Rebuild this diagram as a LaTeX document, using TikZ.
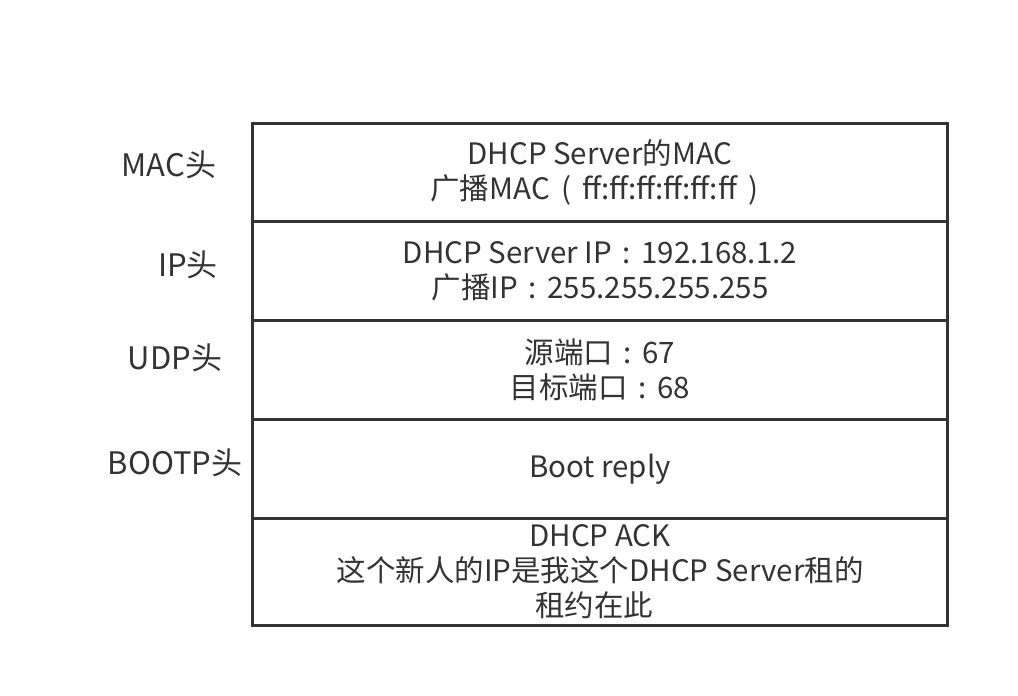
\documentclass[tikz,border=0pt]{standalone}
\usepackage{fontspec}
\setmainfont{Noto Sans CJK SC}
\newcommand{\wcolon}{\makebox[1em]{:}}
\newcommand{\wlp}{\makebox[1.1em]{(}}
\newcommand{\wrp}{\makebox[1.1em]{)}}
\begin{document}
\begin{tikzpicture}[x=1pt,y=-1pt,
  row/.style={draw=black!80, line width=3pt, minimum width=695pt, inner sep=0pt, anchor=north west, text=black!80, align=center, font=\fontsize{29.5}{35}\selectfont},
  lbl/.style={text=black!80, inner sep=0pt, font=\fontsize{31}{35}\selectfont}]
\useasboundingbox (0,0) rectangle (1018,696);
\node[row, minimum height=98pt] (mac) at (251,122) {DHCP Server的MAC\\广播MAC\wlp ff:ff:ff:ff:ff:ff\wrp};
\node[row, minimum height=99pt] (ip) at (251,220) {DHCP Server IP\wcolon 192.168.1.2\\广播IP\wcolon 255.255.255.255};
\node[row, minimum height=99pt] (udp) at (251,319) {源端口\wcolon 67\\目标端口\wcolon 68};
\node[row, minimum height=99pt] (boot) at (251,418) {Boot reply};
\node[row, minimum height=107pt] (ack) at (251,517) {DHCP ACK\\这个新人的IP是我这个DHCP Server租的\\租约在此\hspace*{0.4em}};
\node[lbl] (lmac) at (169,165) {MAC头};
\node[lbl] (lip) at (188,265) {IP头};
\node[lbl] (ludp) at (175,358) {UDP头};
\node[lbl] (lboot) at (175,463) {BOOTP头};
\end{tikzpicture}
\end{document}
